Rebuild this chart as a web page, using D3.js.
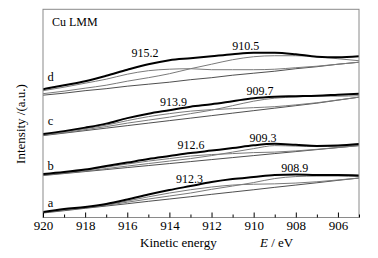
<!DOCTYPE html>
<html>
<head>
<meta charset="utf-8">
<script src="https://cdn.jsdelivr.net/npm/d3@7/dist/d3.min.js"></script>
<style>
html,body{margin:0;padding:0;background:#fff;}
svg{display:block;}
svg text{font-family:"Liberation Serif","Times New Roman",serif;}
</style>
</head>
<body>
<svg id="chart" width="378" height="258"></svg>
<script>
// Kinetic energy grid (eV)
const energy = [920,919,918,917,916,915,914,913,912,911,910,909,908,907,906,905];

// Spectrum a
const envA  = [2,5,7,10,14.5,19.5,24,28,32,35,37,39,39.5,39,39,38.5];
const bgA   = [1,3.3,5.7,8,10.3,12.7,15,17.3,19.7,22,24.3,26.7,29,31.3,33.7,36];
const c1A   = [1.5,4.3,6.5,9.3,13,17.2,21,24.3,27,29,29.8,30.2,31,32.3,34.1,36];
const c2A   = [1.5,4,6.2,8.7,11.8,15,18,21,24.7,28,31.5,35.5,37.5,38,38,37.5];
// Spectrum b
const envB  = [40,42,44.5,48,51.5,55,58,61,63.5,66,68.8,70.3,69.3,68.2,68.6,70];
const bgB   = [38.5,40.5,42.5,44.5,46.5,48.5,50.5,52.5,54.5,56.5,58.5,60.5,62.5,64.5,66.5,68.5];
const c1B   = [39.5,41.5,44,47,50,53,55.5,58,59.5,60.5,61.5,62,63.2,64.8,66.6,68.5];
const c2B   = [39,41,43,45.5,48,50.5,53,55.5,58.5,62,65.5,68.5,68,67.5,68,69];
// Spectrum c
const envC  = [80,83,86.5,90.5,96,100.5,104,107.5,110,113,116,117.5,118,118.5,119.5,120.5];
const bgC   = [78.5,81,83.5,86,88.5,91,93.5,96,98.5,101,103.5,106,108.5,111,114,117];
const c1C   = [79.5,82.5,85.5,89,93.5,97.5,100.5,103,104.5,105.5,106.5,107.5,109.3,111.4,114.2,117];
const c2C   = [79,81.5,84.5,87.5,91,94,97,100.5,104,108.5,113,116,117.2,118,118,118.5];
// Spectrum d
const envD  = [125,129,133,138.5,144.5,150,154,156,158,160,161.5,161.5,160,157.5,157,158];
const bgD   = [119,121,123.5,125.5,128,130,132,134.5,136.5,139,141,143,145.5,147.5,150,152];
const c1D   = [123.5,127,131,135,140,143.5,145,145.5,144.5,144.5,144.5,145,146.5,148,150,152];
const c2D   = [120.5,123,126,129,133,136.5,140.5,145.5,150,154.5,157.5,158.5,158.5,157.5,155.5,153.5];

// Peak annotations
const peakText = ["915.2","910.5","913.9","909.7","912.6","909.3","912.3","908.9"];
const peakE    = [915.16,910.37,913.8,909.7,912.98,909.56,913.04,908.05];
const peakI    = [157,164,108,119,65,72,31,42];

// Spectrum letters
const letters  = ["a","b","c","d"];
const letterI  = [7,44,89,133];

// Axis ticks
const majorTicks = [920,918,916,914,912,910,908,906];
const minorTicks = [919,917,915,913,911,909,907,905];

const FONT = "Liberation Serif, Times New Roman, serif";
const svg = d3.select("#chart");
const L = 43, R = 359, T = 9.3, B = 217.5;
const x = d3.scaleLinear().domain([920,905]).range([L,R]);
const y = d3.scaleLinear().domain([-3.5,205]).range([B,T]);

const line = d3.line().x((d,i)=>x(energy[i])).y(d=>y(d)).curve(d3.curveMonotoneX);

const g = svg.append("g");
svg.append("clipPath").attr("id","pc").append("rect")
  .attr("x",L).attr("y",T).attr("width",R-L).attr("height",B-T);
const plot = g.append("g").attr("clip-path","url(#pc)");

const spectra = [
  {env:envA,bg:bgA,c1:c1A,c2:c2A},
  {env:envB,bg:bgB,c1:c1B,c2:c2B},
  {env:envC,bg:bgC,c1:c1C,c2:c2C},
  {env:envD,bg:bgD,c1:c1D,c2:c2D}
];
spectra.forEach(s=>{
  plot.append("path").attr("d",line(s.bg)).attr("fill","none").attr("stroke","#222").attr("stroke-width",0.8);
  plot.append("path").attr("d",line(s.c1)).attr("fill","none").attr("stroke","#7a7a7a").attr("stroke-width",1);
  plot.append("path").attr("d",line(s.c2)).attr("fill","none").attr("stroke","#7a7a7a").attr("stroke-width",1);
  plot.append("path").attr("d",line(s.env)).attr("fill","none").attr("stroke","#000").attr("stroke-width",2);
});

// Frame
g.append("rect").attr("x",L).attr("y",T).attr("width",R-L).attr("height",B-T)
  .attr("fill","none").attr("stroke","#8a8a8a").attr("stroke-width",1);

// Bottom axis with inward ticks
const axis = d3.axisBottom(x).tickValues(majorTicks).tickSize(-5).tickPadding(3.5).tickFormat(d3.format("d"));
const ax = g.append("g").attr("transform",`translate(0,${B})`).call(axis);
ax.attr("font-family",FONT).attr("font-size",13);
ax.select(".domain").remove();
ax.selectAll(".tick line").attr("stroke","#000");
ax.selectAll(".tick text").attr("fill","#000");
const minorAxis = d3.axisBottom(x).tickValues(minorTicks).tickSize(-3).tickFormat("");
const mx = g.append("g").attr("transform",`translate(0,${B})`).call(minorAxis);
mx.select(".domain").remove();
mx.selectAll(".tick line").attr("stroke","#000");

// Peak labels
peakText.forEach((t,i)=>{
  g.append("text").attr("x",x(peakE[i])).attr("y",y(peakI[i]))
   .attr("text-anchor","middle").attr("font-family",FONT).attr("font-size",12).text(t);
});
letters.forEach((t,i)=>{
  g.append("text").attr("x",x(919.64)).attr("y",y(letterI[i]))
   .attr("text-anchor","middle").attr("font-family",FONT).attr("font-size",12.5).text(t);
});

g.append("text").attr("x",52).attr("y",25.5).attr("font-family",FONT).attr("font-size",12).text("Cu LMM");

// Axis titles
const xt = g.append("text").attr("y",246.5).attr("font-family",FONT).attr("font-size",13);
xt.append("tspan").attr("x",140).text("Kinetic energy");
xt.append("tspan").attr("x",260).attr("font-style","italic").text("E");
xt.append("tspan").text(" / eV");

g.append("text").attr("transform","translate(25,124) rotate(-90)")
  .attr("text-anchor","middle").attr("font-family",FONT).attr("font-size",13).text("Intensity /(a.u.)");
</script>
</body>
</html>
